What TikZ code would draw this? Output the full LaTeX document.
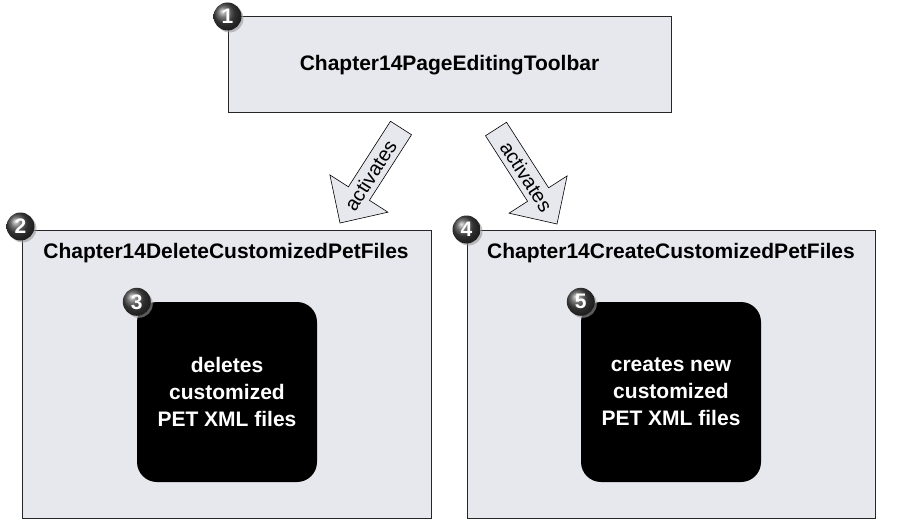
\documentclass[tikz,border=0pt]{standalone}
\usepackage{fontspec}
\setmainfont{Liberation Sans}
\definecolor{BoxFill}{RGB}{231,231,238}
\colorlet{BallColor}{black!72}
\usetikzlibrary{calc, shadows}
\tikzset{
    caja/.style={draw=black!85, line width=1pt, fill=BoxFill, inner sep=0pt},
    negra/.style={fill=black, rounded corners=20pt, inner sep=0pt,
        minimum width=180pt, minimum height=180pt, text=white, align=center,
        font=\fontsize{21}{27}\selectfont\bfseries},
    titulo/.style={font=\fontsize{21}{25}\selectfont\bfseries, inner sep=0pt},
    bola/.style={circle, shading=ball, ball color=BallColor, minimum size=28pt,
        inner sep=0pt, text=white, font=\fontsize{21}{21}\selectfont\bfseries,
        drop shadow={shadow xshift=2pt, shadow yshift=-2pt, fill=black!40, opacity=0.6}},
    flecha/.style={draw=black, line width=0.6pt, fill=BoxFill, line join=miter},
    rotulo/.style={font=\fontsize{20}{20}\selectfont, inner sep=0pt}
}

\begin{document}
\begin{tikzpicture}[x=1pt, y=-1pt]

\useasboundingbox (0,0) rectangle (897,532);

% Cajas principales
\node[caja, minimum width=443pt, minimum height=96pt] (toolbar) at (449.5,65) {};
\node[caja, minimum width=409pt, minimum height=288pt] (delete) at (226.5,374) {};
\node[caja, minimum width=408pt, minimum height=288pt] (create) at (671,374) {};

% Titulos de las cajas
\node[titulo] (toolbartitle) at (toolbar.center) {Chapter14PageEditingToolbar};
\node[titulo] (deletetitle) at (226,253) {Chapter14DeleteCustomizedPetFiles};
\node[titulo] (createtitle) at (671,253) {Chapter14CreateCustomizedPetFiles};

% Cajas negras con la descripcion
\node[negra] (deletes) at (227,392) {deletes\\customized\\PET XML files};
\node[negra] (creates) at (671,392) {creates new\\customized\\PET XML files};

% Numeros en las esquinas, despues de las cajas para que queden encima
\node[bola] (n1) at (toolbar.north west) {1};
\node[bola] (n2) at ($(delete.north west)+(-1,-3)$) {2};
\node[bola] (n3) at (deletes.north west) {3};
\node[bola] (n4) at (create.north west) {4};
\node[bola] (n5) at (creates.north west) {5};

% Flechas de bloque: cola y punta de cada una
\coordinate (tail1) at (401,128);
\coordinate (tip1) at (340,223);
\coordinate (tail2) at (496,129);
\coordinate (tip2) at (557,224);

% Base de la cabeza de cada flecha
\coordinate (base1) at ($(tip1)!35pt!(tail1)$);
\coordinate (base2) at ($(tip2)!35pt!(tail2)$);

\draw[flecha]
($(tail1)!12.5pt!90:(tip1)$) --
($(base1)!12.5pt!-90:(tail1)$) --
($(base1)!34.5pt!-90:(tail1)$) --
(tip1) --
($(base1)!34.5pt!90:(tail1)$) --
($(base1)!12.5pt!90:(tail1)$) --
($(tail1)!12.5pt!-90:(tip1)$) -- cycle;

\draw[flecha]
($(tail2)!12.5pt!90:(tip2)$) --
($(base2)!12.5pt!-90:(tail2)$) --
($(base2)!34.5pt!-90:(tail2)$) --
(tip2) --
($(base2)!34.5pt!90:(tail2)$) --
($(base2)!12.5pt!90:(tail2)$) --
($(tail2)!12.5pt!-90:(tip2)$) -- cycle;

\path (tail1) -- (tip1) node[rotulo, pos=0.5, sloped] (act1) {activates};
\path (tail2) -- (tip2) node[rotulo, pos=0.5, sloped] (act2) {activates};

\end{tikzpicture}
\end{document}
